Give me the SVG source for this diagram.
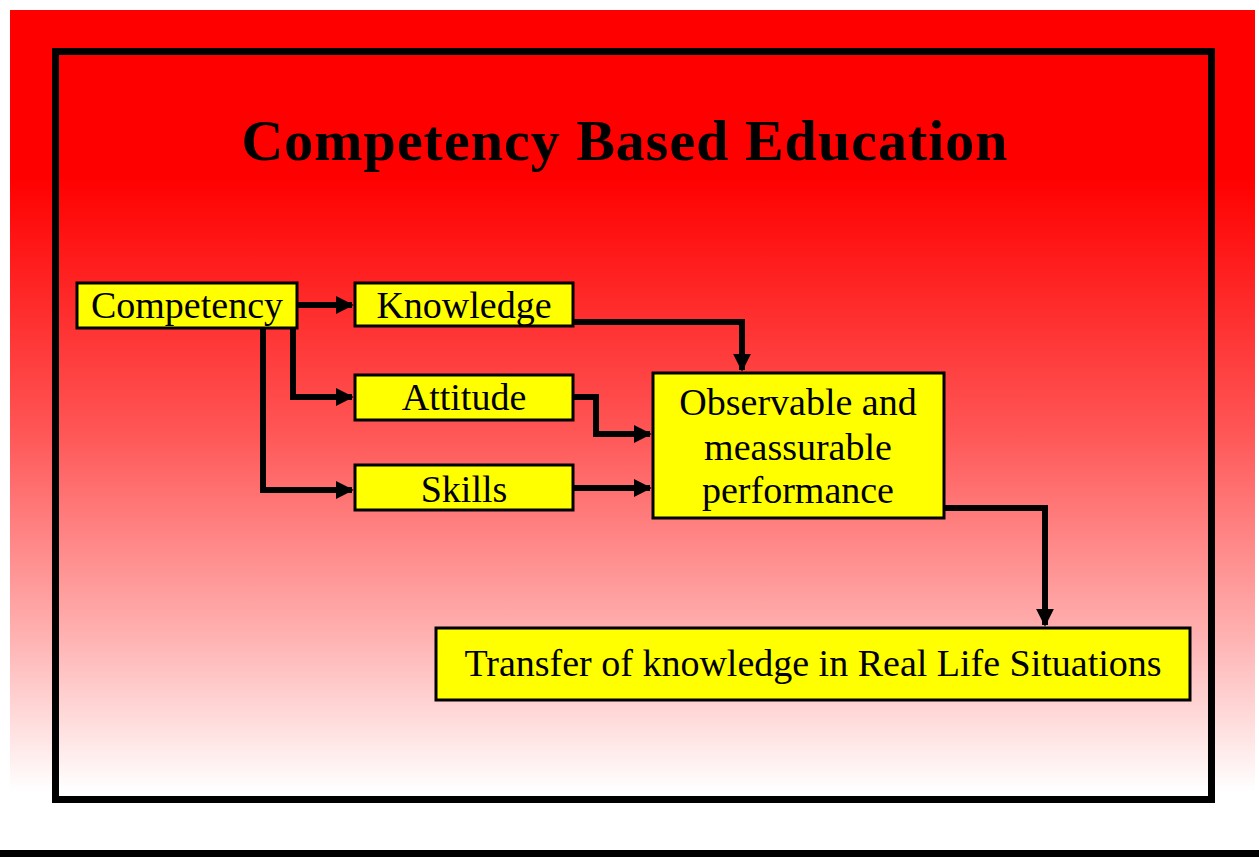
<svg xmlns="http://www.w3.org/2000/svg" width="1259" height="857" viewBox="0 0 1259 857">
<defs>
<linearGradient id="bg" x1="0" y1="0" x2="0" y2="1">
<stop offset="0" stop-color="#ff0000"/>
<stop offset="0.2" stop-color="#ff0000"/>
<stop offset="0.5" stop-color="#ff5555"/>
<stop offset="0.75" stop-color="#ffb3b3"/>
<stop offset="0.93" stop-color="#ffffff"/>
<stop offset="1" stop-color="#ffffff"/>
</linearGradient>
<marker id="ah" viewBox="0 0 10 10" refX="9" refY="5" markerWidth="3" markerHeight="3.2" orient="auto" markerUnits="strokeWidth">
<path d="M0,0 L10,5 L0,10 z" fill="#000"/>
</marker>
<style>
.box{fill:#ffff00;stroke:#000;stroke-width:3}
.t{font-family:"Liberation Serif","Times New Roman",serif;font-size:38px;fill:#000;text-anchor:middle}
.c{fill:none;stroke:#000;stroke-width:6;stroke-linejoin:miter}
</style>
</defs>
<rect x="0" y="0" width="1259" height="857" fill="#ffffff"/>
<rect x="10" y="10" width="1245" height="840" fill="url(#bg)"/>
<rect x="0" y="850" width="1259" height="7" fill="#000"/>
<rect x="55.5" y="51.5" width="1156" height="748" fill="none" stroke="#000" stroke-width="7"/>
<text x="625" y="160" font-family="Liberation Serif,Times New Roman,serif" font-size="58" font-weight="bold" letter-spacing="1" text-anchor="middle" fill="#000">Competency Based Education</text>
<g id="connectors">
<path class="c" d="M297,305 L352,305" marker-end="url(#ah)"/>
<path class="c" d="M293,328 L293,397 L352,397" marker-end="url(#ah)"/>
<path class="c" d="M263,328 L263,490 L352,490" marker-end="url(#ah)"/>
<path class="c" d="M573,322 L742,322 L742,370" marker-end="url(#ah)"/>
<path class="c" d="M573,397 L596,397 L596,434 L650,434" marker-end="url(#ah)"/>
<path class="c" d="M573,488 L650,488" marker-end="url(#ah)"/>
<path class="c" d="M944,508 L1045,508 L1045,625" marker-end="url(#ah)"/>
</g>
<g id="competency"><rect class="box" x="77" y="283" width="220" height="45"/><text class="t" x="187" y="318">Competency</text></g>
<g id="knowledge"><rect class="box" x="355" y="283" width="218" height="43"/><text class="t" x="464" y="318">Knowledge</text></g>
<g id="attitude"><rect class="box" x="355" y="375" width="218" height="45"/><text class="t" x="464" y="410">Attitude</text></g>
<g id="skills"><rect class="box" x="355" y="465" width="218" height="45"/><text class="t" x="464" y="502">Skills</text></g>
<g id="observable"><rect class="box" x="653" y="373" width="291" height="145"/><text class="t" x="798" y="415">Observable and</text><text class="t" x="798" y="460">meassurable</text><text class="t" x="798" y="503">performance</text></g>
<g id="transfer"><rect class="box" x="436" y="628" width="754" height="72"/><text class="t" x="813" y="676">Transfer of knowledge in Real Life Situations</text></g>
</svg>
